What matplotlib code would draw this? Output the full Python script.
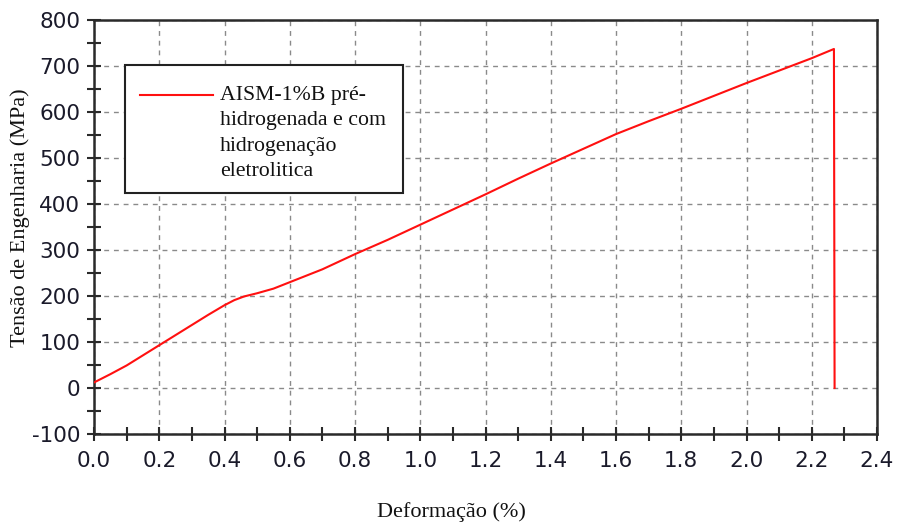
import matplotlib
matplotlib.use("Agg")
import matplotlib.pyplot as plt
from matplotlib.patches import Rectangle
from matplotlib.lines import Line2D
from matplotlib.ticker import MultipleLocator, FormatStrFormatter

plt.rcParams["axes.unicode_minus"] = False

# Engineering stress-strain curve (strain in %, stress in MPa)
strain = [0.00, 0.05, 0.10, 0.15, 0.20, 0.25, 0.30, 0.35, 0.40, 0.43,
          0.46, 0.50, 0.55, 0.60, 0.70, 0.80, 0.90, 1.00, 1.10, 1.20,
          1.30, 1.40, 1.50, 1.60, 1.70, 1.80, 1.90, 2.00, 2.10, 2.20,
          2.268, 2.270]
stress = [12, 30, 49, 71, 93, 115, 137, 159, 180, 191,
          199, 206, 216, 230, 258, 291, 322, 355, 388, 421,
          455, 488, 520, 552, 580, 607, 635, 663, 690, 717,
          737, 0]

series_label = "AISM-1%B pré-\nhidrogenada e com\nhidrogenação\neletrolitica"
x_label = "Deformação (%)"
y_label = "Tensão de Engenharia (MPa)"

W, H = 898, 527
fig = plt.figure(figsize=(W / 100, H / 100), dpi=100)
ax = fig.add_axes([94 / W, 93 / H, 783 / W, 414 / H])

ax.plot(strain, stress, color="#ff1010", lw=1.5, zorder=3)

ax.set_xlim(0, 2.4)
ax.set_ylim(-100, 800)
ax.xaxis.set_major_locator(MultipleLocator(0.2))
ax.xaxis.set_minor_locator(MultipleLocator(0.1))
ax.yaxis.set_major_locator(MultipleLocator(100))
ax.yaxis.set_minor_locator(MultipleLocator(50))
ax.xaxis.set_major_formatter(FormatStrFormatter("%.1f"))

ax.grid(True, which="major", color="#8a8a8a", lw=1.0, ls=(0, (3.5, 3.5)))
ax.set_axisbelow(True)

for s in ax.spines.values():
    s.set_linewidth(1.8)
    s.set_color("#2a2a2a")

ax.tick_params(which="both", direction="inout", color="#2a2a2a", width=1.5,
               top=False, right=False)
ax.tick_params(which="major", length=10, labelsize=15.5, labelcolor="#1a1a2a")
ax.tick_params(which="minor", length=10)
ax.tick_params(axis="x", which="major", pad=7)
ax.tick_params(axis="y", which="major", pad=5)

serif = ["Liberation Serif", "DejaVu Serif"]
fig.text(451 / W, 1 - 512 / H, x_label, fontsize=16, family=serif,
         ha="center", va="center", color="#111111")
fig.text(20 / W, 1 - 218 / H, y_label, fontsize=16, family=serif, rotation=90,
         ha="center", va="center", color="#111111")

# Legend box drawn by hand so the sample line sits on the first text line
x0, x1 = (125 - 94) / 783, (403 - 94) / 783
y_top, y_bot = (434 - 65) / 414, (434 - 193) / 414
ax.add_patch(Rectangle((x0, y_bot), x1 - x0, y_top - y_bot, transform=ax.transAxes,
                       facecolor="white", edgecolor="#222222", lw=1.5, zorder=5))
ly = (434 - 95) / 414
ax.add_line(Line2D([(140 - 94) / 783, (213 - 94) / 783], [ly, ly], transform=ax.transAxes,
                   color="#ff1010", lw=1.5, zorder=6))
ax.text((220 - 94) / 783, (434 - 86) / 414, series_label, transform=ax.transAxes,
        ha="left", va="top", fontsize=15.7, family=serif, linespacing=1.45,
        color="#111111", zorder=6)

fig.savefig("out.png", dpi=100, facecolor="white")
